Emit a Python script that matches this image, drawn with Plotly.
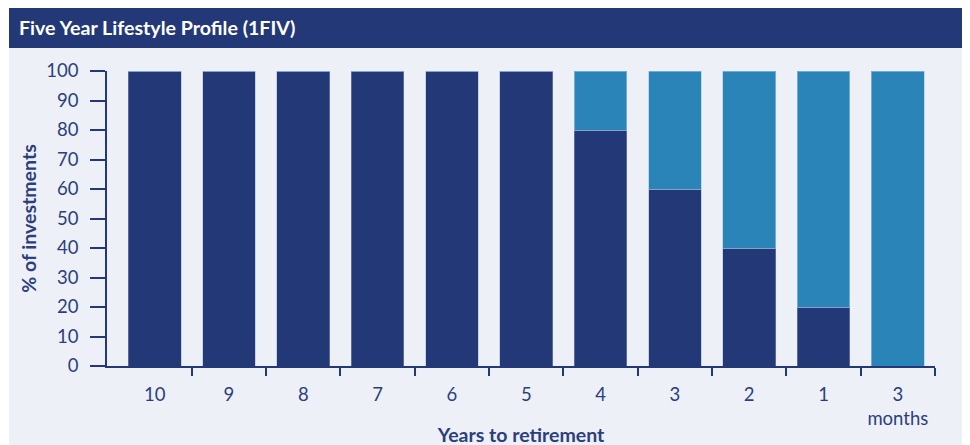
import plotly.graph_objects as go

categories = ["10", "9", "8", "7", "6", "5", "4", "3", "2", "1", "3<br>months"]
growth = [100, 100, 100, 100, 100, 100, 80, 60, 40, 20, 0]
cash = [0, 0, 0, 0, 0, 0, 20, 40, 60, 80, 100]
y_ticks = list(range(0, 101, 10))

NAVY = "#233876"
BLUE = "#2A84B8"
TXT = "#2B3F7E"
PANEL = "#EDF0F6"
FONT = "Lato, 'Open Sans', sans-serif"

W, H = 970, 445
L, R, T, B = 99, 43, 63, 87
pw, ph = W - L - R, H - T - B
xs = list(range(len(categories)))

def px_x(p):
    return (p - L) / pw

def px_y(p):
    return (H - B - p) / ph

fig = go.Figure()
fig.add_trace(go.Bar(x=xs, y=growth,
                     marker=dict(color=NAVY, line=dict(color="rgba(150,170,210,0.45)", width=1)),
                     width=0.71, name="Growth", hoverinfo="y"))
fig.add_trace(go.Bar(x=xs, y=cash,
                     marker=dict(color=BLUE, line=dict(color="rgba(160,200,228,0.6)", width=1)),
                     width=0.71, name="Cash", hoverinfo="y"))

fig.update_layout(
    barmode="stack",
    width=W, height=H,
    margin=dict(l=L, r=R, t=T, b=B, autoexpand=False),
    paper_bgcolor="white",
    plot_bgcolor="rgba(0,0,0,0)",
    showlegend=False,
    font=dict(family=FONT, color=TXT, size=18.5),
    title=dict(text="<b>Five Year Lifestyle Profile (1FIV)</b>", x=11 / W, xanchor="left",
               y=1 - 20 / H, yanchor="middle", xref="container", yref="container",
               font=dict(family=FONT, color="white", size=19.6)),
    shapes=[
        dict(type="rect", xref="paper", yref="paper", x0=px_x(1), x1=px_x(975), y0=px_y(450), y1=px_y(40),
             fillcolor=PANEL, line=dict(width=0), layer="below"),
        dict(type="rect", xref="paper", yref="paper", x0=px_x(1), x1=px_x(975), y0=px_y(40), y1=px_y(-1),
             fillcolor=NAVY, line=dict(width=0), layer="below"),
    ],
)

fig.update_xaxes(
    range=[-0.641, 10.5],
    tickmode="array", tickvals=xs, ticktext=categories,
    ticks="", showgrid=False, zeroline=False,
    showline=True, linecolor=NAVY, linewidth=1.5,
    ticklabelstandoff=11,
    minor=dict(tickmode="array", tickvals=[i + 0.5 for i in xs], ticks="outside",
               ticklen=8, tickcolor=NAVY, tickwidth=1.5, showgrid=False),
    title=dict(text="<b>Years to retirement</b>", standoff=0, font=dict(size=19.5, color=TXT)),
)
fig.update_yaxes(
    range=[0, 100],
    tickmode="array", tickvals=y_ticks,
    ticks="outside", ticklen=15, tickcolor=NAVY, tickwidth=1.5,
    showgrid=False, zeroline=False,
    showline=True, linecolor=NAVY, linewidth=1.5,
    ticklabelstandoff=8,
    title=dict(text="<b>% of investments</b>", standoff=5, font=dict(size=19.5, color=TXT)),
)

fig.write_html("out.html")
